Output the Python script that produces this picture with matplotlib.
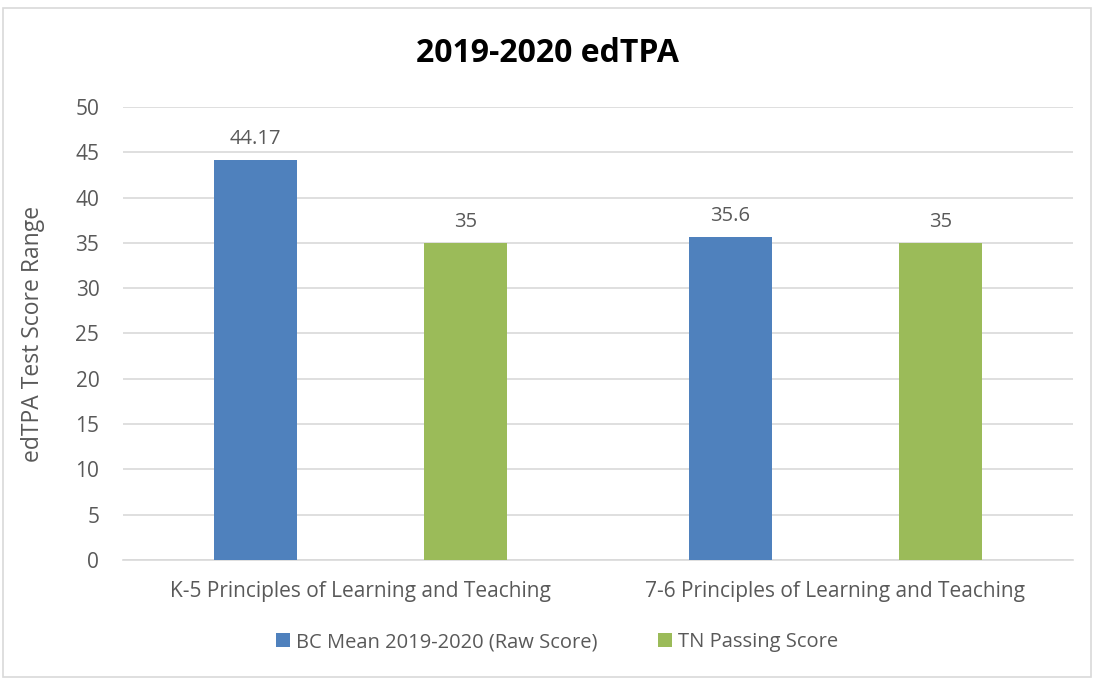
import numpy as np
import matplotlib.pyplot as plt
from matplotlib.patches import Rectangle

categories = ["K-5 Principles of Learning and Teaching",
              "7-6 Principles of Learning and Teaching"]
bc_mean = [44.17, 35.6]
tn_passing = [35, 35]
bc_labels = ["44.17", "35.6"]
tn_labels = ["35", "35"]

blue = "#4F81BD"
green = "#9BBB59"
text_col = "#595959"

plt.rcParams['font.family'] = ['Open Sans', 'DejaVu Sans']

fig = plt.figure(figsize=(10.94, 6.79), dpi=100)
ax = fig.add_axes([0.1124, 0.1753, 0.8684, 0.6671])

# thin grey border round the chart
fig.patches.append(Rectangle((0.003, 0.003), 0.994, 0.985, transform=fig.transFigure,
                             fill=False, edgecolor="#D9D9D9", linewidth=1.2))

x = np.arange(len(categories))
w = 0.175
off = 0.221
b1 = ax.bar(x - off, bc_mean, w, color=blue, label="BC Mean 2019-2020 (Raw Score)", zorder=3)
b2 = ax.bar(x + off, tn_passing, w, color=green, label="TN Passing Score", zorder=3)

for rect, lab in zip(b1, bc_labels):
    ax.annotate(lab, (rect.get_x() + rect.get_width() / 2, rect.get_height()),
                xytext=(0, 8), textcoords="offset points", ha="center", va="bottom",
                fontsize=14.5, color=text_col)
for rect, lab in zip(b2, tn_labels):
    ax.annotate(lab, (rect.get_x() + rect.get_width() / 2, rect.get_height()),
                xytext=(0, 8), textcoords="offset points", ha="center", va="bottom",
                fontsize=14.5, color=text_col)

ax.set_xlim(-0.5, 1.5)
ax.set_ylim(0, 50)
ax.set_yticks(np.arange(0, 51, 5))
ax.set_xticks(x)
ax.set_xticklabels(categories)
ax.grid(axis="y", color="#D9D9D9", linewidth=1.2, zorder=0)
for s in ["top", "right", "left"]:
    ax.spines[s].set_visible(False)
ax.spines["bottom"].set_color("#D9D9D9")
ax.spines["bottom"].set_linewidth(1.2)
ax.tick_params(axis="both", length=0, labelsize=15, colors=text_col)
ax.tick_params(axis="x", pad=15)
ax.tick_params(axis="y", pad=17)
ax.set_ylabel("edTPA Test Score Range", fontsize=16.5, color=text_col, labelpad=22)

fig.suptitle("2019-2020 edTPA", fontsize=23, fontweight="bold", color="black", y=0.945)

ax.legend(loc="upper center", bbox_to_anchor=(0.457, -0.12), ncol=2, frameon=False,
          fontsize=14.5, labelcolor=text_col, handlelength=0.7, handleheight=0.7,
          handletextpad=0.3, columnspacing=3)

fig.savefig("out.png", dpi=100)
